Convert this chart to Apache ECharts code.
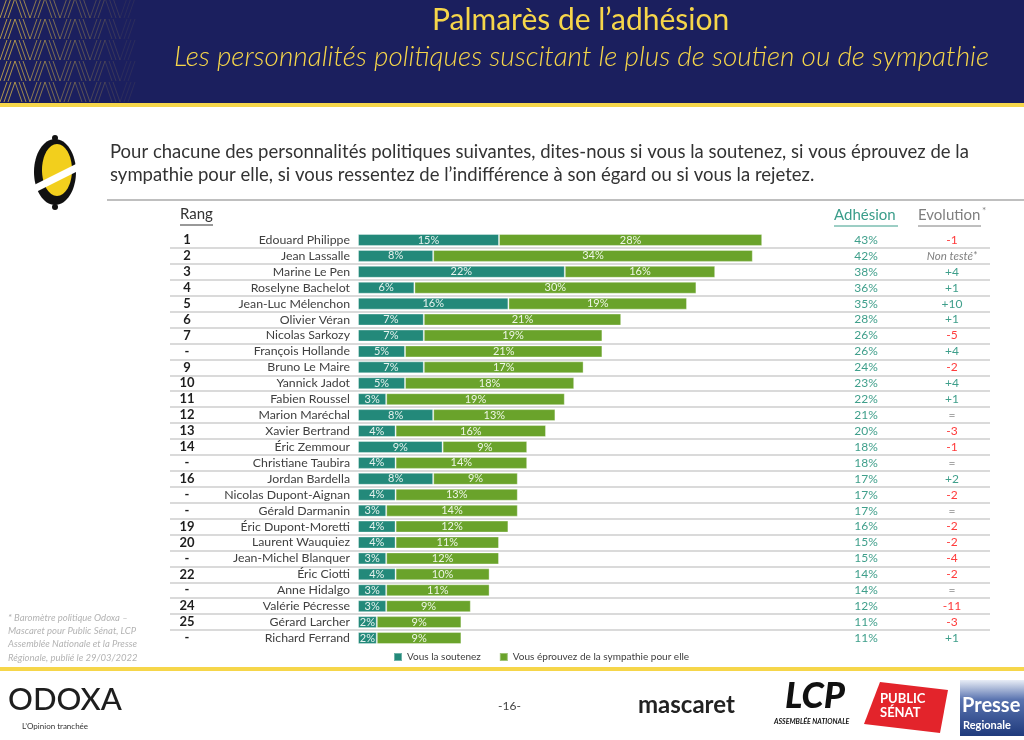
<!DOCTYPE html>
<html>
<head>
<meta charset="utf-8">
<script src="https://cdn.jsdelivr.net/npm/echarts@6/dist/echarts.min.js"></script>
<style>html,body{margin:0;padding:0;background:#fff;}#c{width:1024px;height:740px;}</style>
</head>
<body>
<div id="c"></div>
<script>
var ranks = ['1','2','3','4','5','6','7','-','9','10','11','12','13','14','-','16','-','-','19','20','-','22','-','24','25','-'];
var names = ['Edouard Philippe','Jean Lassalle','Marine Le Pen','Roselyne Bachelot','Jean-Luc Mélenchon','Olivier Véran','Nicolas Sarkozy','François Hollande','Bruno Le Maire','Yannick Jadot','Fabien Roussel','Marion Maréchal','Xavier Bertrand','Éric Zemmour','Christiane Taubira','Jordan Bardella','Nicolas Dupont-Aignan','Gérald Darmanin','Éric Dupont-Moretti','Laurent Wauquiez','Jean-Michel Blanquer','Éric Ciotti','Anne Hidalgo','Valérie Pécresse','Gérard Larcher','Richard Ferrand'];
var soutien = [15,8,22,6,16,7,7,5,7,5,3,8,4,9,4,8,4,3,4,4,3,4,3,3,2,2];
var sympathie = [28,34,16,30,19,21,19,21,17,18,19,13,16,9,14,9,13,14,12,11,12,10,11,9,9,9];
var adhesion = [43,42,38,36,35,28,26,26,24,23,22,21,20,18,18,17,17,17,16,15,15,14,14,12,11,11];
var evolution = ['-1','Non testé*','+4','+1','+10','+1','-5','+4','-2','+4','+1','=','-3','-1','=','+2','-2','=','-2','-2','-4','-2','=','-11','-3','+1'];
var seriesNames = ['Vous la soutenez', 'Vous éprouvez de la sympathie pour elle'];

var FONT = 'Lato';
var chart = echarts.init(document.getElementById('c'));

function evoStyle(v) {
  if (v === '=') return 'q';
  if (v.charAt(0) === '+') return 'p';
  if (v.charAt(0) === '-') return 'n';
  return 'nt';
}

// decorative header pattern (herringbone)
var deco = [];
for (var col = 0; col < 9; col++) {
  for (var row = 0; row < 5; row++) {
    for (var k = 0; k < 3; k++) {
      var x0 = col * 15 + k * 4, y0 = row * 21 - 2;
      var dir = (col % 2 === 0) ? 1 : -1;
      deco.push({
        type: 'line', silent: true,
        shape: { x1: x0 + (dir > 0 ? 0 : 7), y1: y0 + 20, x2: x0 + (dir > 0 ? 7 : 0), y2: y0 },
        style: { stroke: 'rgba(238,200,70,' + Math.max(0.08, 0.7 - col * 0.08) + ')', lineWidth: 1 }
      });
    }
  }
}

var graphics = [
  { type: 'rect', shape: { x: 0, y: 0, width: 1024, height: 103 }, style: { fill: '#1b1f5e' }, z: -10 },
  { type: 'rect', shape: { x: 0, y: 103, width: 1024, height: 4 }, style: { fill: '#f6d64a' }, z: -10 },
  { type: 'group', children: deco },
  { type: 'text', left: 432, top: 5, style: { text: 'Palmarès de l\u2019adhésion', font: '400 30px ' + FONT, fill: '#f6d64a' } },
  { type: 'text', left: 174, top: 43, style: { text: 'Les personnalités politiques suscitant le plus de soutien ou de sympathie', font: 'italic 300 28px ' + FONT, fill: '#f6d64a' } },
  // icon
  { type: 'circle', shape: { cx: 55, cy: 138, r: 3 }, style: { fill: '#111' } },
  { type: 'circle', shape: { cx: 55, cy: 207, r: 3 }, style: { fill: '#111' } },
  { type: 'ellipse', shape: { cx: 55, cy: 172, rx: 21, ry: 33 }, style: { fill: '#111' } },
  { type: 'ellipse', shape: { cx: 57, cy: 170, rx: 15, ry: 26 }, style: { fill: '#f2cf1d' } },
  { type: 'polygon', shape: { points: [[30, 187], [80, 162], [80, 170], [30, 195]] }, style: { fill: '#fff' } },
  // question
  { type: 'text', left: 110, top: 143, style: { text: 'Pour chacune des personnalités politiques suivantes, dites-nous si vous la soutenez, si vous éprouvez de la', font: '18.5px ' + FONT, fill: '#333' } },
  { type: 'text', left: 110, top: 166, style: { text: 'sympathie pour elle, si vous ressentez de l\u2019indifférence à son égard ou si vous la rejetez.', font: '18.5px ' + FONT, fill: '#333' } },
  { type: 'line', shape: { x1: 107, y1: 200, x2: 1024, y2: 200 }, style: { stroke: '#bfbfbf', lineWidth: 2 } },
  // column headers
  { type: 'text', left: 180, top: 207, style: { text: 'Rang', font: '15px ' + FONT, fill: '#333' } },
  { type: 'line', shape: { x1: 180, y1: 225, x2: 213, y2: 225 }, style: { stroke: '#333', lineWidth: 1 } },
  { type: 'text', left: 834, top: 208, style: { text: 'Adhésion', font: '15px ' + FONT, fill: '#3a9d8a' } },
  { type: 'line', shape: { x1: 834, y1: 226, x2: 898, y2: 226 }, style: { stroke: '#3a9d8a', lineWidth: 1 } },
  { type: 'text', left: 918, top: 208, style: { text: 'Evolution', font: '15px ' + FONT, fill: '#7f7f7f' } },
  { type: 'text', left: 982, top: 206, style: { text: '*', font: '10px ' + FONT, fill: '#7f7f7f' } },
  { type: 'line', shape: { x1: 918, y1: 226, x2: 981, y2: 226 }, style: { stroke: '#7f7f7f', lineWidth: 1 } },
  // footnote
  { type: 'text', left: 8, top: 611, style: { text: '* Baromètre politique Odoxa \u2013\nMascaret pour Public Sénat, LCP\nAssemblée Nationale et la Presse\nRégionale, publié le 29/03/2022', font: 'italic 9.5px ' + FONT, fill: '#b3b3b3', lineHeight: 13.3 } },
  // footer
  { type: 'rect', shape: { x: 0, y: 667, width: 1024, height: 4 }, style: { fill: '#f6d64a' } },
  { type: 'text', left: 8, top: 684, style: { text: 'ODOXA', font: '500 31px ' + FONT, fill: '#1e1e1e' } },
  { type: 'text', left: 22, top: 722, style: { text: 'L\u2019Opinion tranchée', font: '8px ' + FONT, fill: '#333' } },
  { type: 'text', left: 498, top: 700, style: { text: '-16-', font: '12px ' + FONT, fill: '#444' } },
  { type: 'text', left: 638, top: 693, style: { text: 'mascaret', font: 'bold 24px ' + FONT, fill: '#222' } },
  { type: 'text', left: 785, top: 678, style: { text: 'LCP', font: 'italic 900 36px ' + FONT, fill: '#111' } },
  { type: 'text', left: 774, top: 718, style: { text: 'ASSEMBLÉE NATIONALE', font: 'italic bold 7px ' + FONT, fill: '#111' } },
  { type: 'polygon', shape: { points: [[880, 682], [948, 690], [940, 733], [864, 724]] }, style: { fill: '#e3242b' } },
  { type: 'text', left: 880, top: 692, style: { text: 'PUBLIC', font: 'bold 13px ' + FONT, fill: '#fff' } },
  { type: 'text', left: 880, top: 706, style: { text: 'SÉNAT', font: 'bold 13px ' + FONT, fill: '#fff' } },
  { type: 'rect', shape: { x: 960, y: 680, width: 64, height: 56 }, style: { fill: new echarts.graphic.LinearGradient(0, 0, 0, 1, [{ offset: 0, color: '#e8edf6' }, { offset: 0.35, color: '#5a74b0' }, { offset: 1, color: '#1f3a7c' }]) } },
  { type: 'text', left: 962, top: 696, style: { text: 'Presse', font: 'bold 20px ' + FONT, fill: '#fff' } },
  { type: 'text', left: 963, top: 720, style: { text: 'Regionale', font: 'bold 11px ' + FONT, fill: '#fff' } }
];

var option = {
  animation: false,
  textStyle: { fontFamily: FONT },
  graphic: graphics,
  legend: {
    data: seriesNames, left: 388, top: 647, icon: 'rect', itemWidth: 8, itemHeight: 8, itemGap: 18,
    textStyle: { fontSize: 10, color: '#404040', fontFamily: FONT }
  },
  grid: [
    { left: 358, width: 470, top: 232, height: 414 },
    { left: 170, width: 820, top: 232, height: 414 }
  ],
  xAxis: [
    { type: 'value', gridIndex: 0, min: 0, max: 50, show: false },
    { type: 'value', gridIndex: 1, min: 0, max: 1, show: false }
  ],
  yAxis: [
    {
      type: 'category', gridIndex: 0, inverse: true, data: names,
      axisLine: { show: false }, axisTick: { show: false }, splitLine: { show: false },
      axisLabel: {
        margin: 8, align: 'right',
        formatter: function (v, i) { return '{r|' + ranks[i] + '}{n|' + v + '}'; },
        rich: {
          r: { width: 30, align: 'center', fontSize: 13, fontWeight: 'bold', color: '#1e1e1e', fontFamily: FONT },
          n: { width: 148, align: 'right', fontSize: 12.3, color: '#404040', fontFamily: FONT }
        }
      }
    },
    {
      type: 'category', gridIndex: 0, inverse: true, position: 'right', data: names,
      axisLine: { show: false }, axisTick: { show: false }, splitLine: { show: false },
      axisLabel: {
        margin: 6, align: 'left',
        formatter: function (v, i) { var e = evolution[i]; return '{a|' + adhesion[i] + '%}{' + evoStyle(e) + '|' + e + '}'; },
        rich: {
          a: { width: 64, align: 'center', fontSize: 12, color: '#3f9f8b', fontFamily: FONT },
          p: { width: 108, align: 'center', fontSize: 12, color: '#3f9f8b', fontFamily: FONT },
          n: { width: 108, align: 'center', fontSize: 12, color: '#ff3b3b', fontFamily: FONT },
          q: { width: 108, align: 'center', fontSize: 12, color: '#a6a6a6', fontFamily: FONT },
          nt: { width: 108, align: 'center', fontSize: 11.5, fontStyle: 'italic', color: '#808080', fontFamily: FONT }
        }
      }
    },
    {
      type: 'category', gridIndex: 1, inverse: true, data: names,
      axisLine: { show: false }, axisTick: { show: false }, axisLabel: { show: false },
      splitLine: { show: true, showMinLine: false, showMaxLine: false, lineStyle: { color: '#dadada', width: 2 } }
    }
  ],
  series: [
    {
      name: seriesNames[0], type: 'bar', stack: 'a', xAxisIndex: 0, yAxisIndex: 0, data: soutien, barWidth: 12,
      itemStyle: { color: '#23897a', borderColor: 'rgba(255,255,255,0.35)', borderWidth: 1 },
      label: { show: true, position: 'inside', formatter: '{c}%', color: '#e6f2ee', fontSize: 11, fontFamily: FONT }
    },
    {
      name: seriesNames[1], type: 'bar', stack: 'a', xAxisIndex: 0, yAxisIndex: 0, data: sympathie, barWidth: 12,
      itemStyle: { color: '#6aa32b', borderColor: 'rgba(255,255,255,0.35)', borderWidth: 1 },
      label: { show: true, position: 'inside', formatter: '{c}%', color: '#eef6e6', fontSize: 11, fontFamily: FONT }
    }
  ]
};
chart.setOption(option);
</script>
</body>
</html>
